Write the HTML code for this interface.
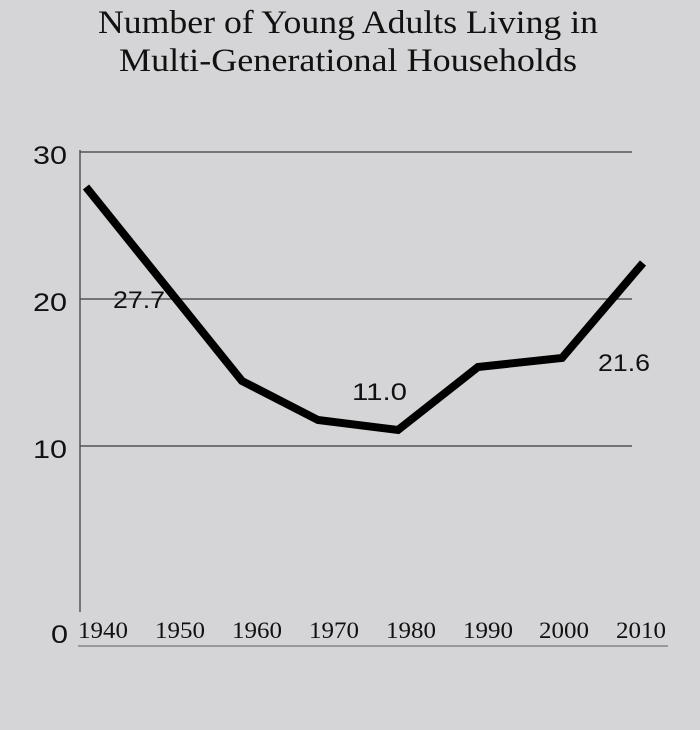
<!DOCTYPE html>
<html><head><style>
html,body{margin:0;padding:0;background:#d5d5d7;}
</style></head><body>
<svg width="700" height="730" xmlns="http://www.w3.org/2000/svg" style="display:block">
<rect width="700" height="730" fill="#d5d5d7"/>
<g font-family="Liberation Serif, serif" font-size="33" fill="#111">
<text x="98" y="33" textLength="500" lengthAdjust="spacingAndGlyphs">Number of Young Adults Living in</text>
<text x="119" y="71" textLength="458" lengthAdjust="spacingAndGlyphs">Multi-Generational Households</text>
</g>
<g stroke="#555" stroke-width="1.5">
<line x1="80" y1="152" x2="632" y2="152"/>
<line x1="80" y1="299" x2="632" y2="299"/>
<line x1="80" y1="446" x2="632" y2="446"/>
<line x1="80" y1="150" x2="80" y2="612"/>
</g>
<line x1="78" y1="646" x2="668" y2="646" stroke="#999" stroke-width="2"/>
<g font-family="Liberation Sans, sans-serif" font-size="25" fill="#111">
<text x="33" y="164" textLength="34" lengthAdjust="spacingAndGlyphs">30</text>
<text x="33" y="311" textLength="34" lengthAdjust="spacingAndGlyphs">20</text>
<text x="33" y="458" textLength="34" lengthAdjust="spacingAndGlyphs">10</text>
<text x="51" y="643" textLength="17" lengthAdjust="spacingAndGlyphs">0</text>
</g>
<polyline points="86,187 242,381 318,420 398,430 478,367 562,358 643,263" fill="none" stroke="#000" stroke-width="8" stroke-linejoin="miter"/>
<g font-family="Liberation Sans, sans-serif" font-size="24" fill="#111">
<text x="113" y="308" textLength="52" lengthAdjust="spacingAndGlyphs">27.7</text>
<text x="352" y="400" textLength="55" lengthAdjust="spacingAndGlyphs">11.0</text>
<text x="598" y="371" textLength="52" lengthAdjust="spacingAndGlyphs">21.6</text>
</g>
<g font-family="Liberation Serif, serif" font-size="23" fill="#111">
<text x="78" y="638" textLength="50" lengthAdjust="spacingAndGlyphs">1940</text>
<text x="155" y="638" textLength="50" lengthAdjust="spacingAndGlyphs">1950</text>
<text x="232" y="638" textLength="50" lengthAdjust="spacingAndGlyphs">1960</text>
<text x="309" y="638" textLength="50" lengthAdjust="spacingAndGlyphs">1970</text>
<text x="386" y="638" textLength="50" lengthAdjust="spacingAndGlyphs">1980</text>
<text x="463" y="638" textLength="50" lengthAdjust="spacingAndGlyphs">1990</text>
<text x="539" y="638" textLength="50" lengthAdjust="spacingAndGlyphs">2000</text>
<text x="616" y="638" textLength="50" lengthAdjust="spacingAndGlyphs">2010</text>
</g>
</svg>
</body></html>
